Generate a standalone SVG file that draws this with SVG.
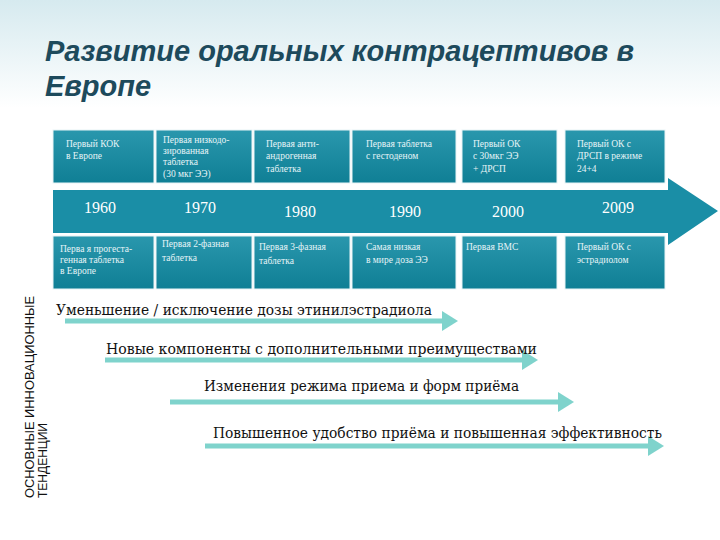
<svg xmlns="http://www.w3.org/2000/svg" width="720" height="540" viewBox="0 0 720 540">
<defs>
<linearGradient id="bg" x1="0" y1="0" x2="0" y2="1"><stop offset="0" stop-color="#d6eaef"/><stop offset="0.2" stop-color="#ffffff"/></linearGradient>
<linearGradient id="box" x1="0" y1="0" x2="0" y2="1"><stop offset="0" stop-color="#2a97ad"/><stop offset="1" stop-color="#0f7f95"/></linearGradient>
<marker id="ah" markerWidth="4" markerHeight="4" refX="2" refY="2" orient="auto" markerUnits="strokeWidth"><path d="M0,0 L3.2,2 L0,4 z" fill="#7fd3cc"/></marker>
<style>
.box{fill:url(#box);stroke:#e8f4f6;stroke-width:1}
.bt{font-family:"Liberation Serif",serif;font-size:9.5px;fill:#e6f4f7}
.yr{font-family:"Liberation Serif",serif;font-size:16px;fill:#ffffff}
.tl{font-family:"DejaVu Serif","Liberation Serif",serif;font-size:14px;fill:#111}
.ln{stroke:#7fd3cc;stroke-width:5;fill:none;marker-end:url(#ah)}
</style>
</defs>
<rect width="720" height="540" fill="url(#bg)"/>
<g id="title" font-family="Liberation Sans,sans-serif" font-size="29" font-weight="bold" font-style="italic" fill="#1d4a5c">
<text x="45" y="61">Развитие оральных контрацептивов в</text>
<text x="45" y="96">Европе</text>
</g>
<g id="timeline">
<path d="M53,190 H668 V178 L718,211 L668,245 V233 H53 Z" fill="#1a8ea6"/>
<text class="yr" x="100" y="213" text-anchor="middle">1960</text>
<text class="yr" x="200" y="213" text-anchor="middle">1970</text>
<text class="yr" x="300" y="217" text-anchor="middle">1980</text>
<text class="yr" x="405" y="217" text-anchor="middle">1990</text>
<text class="yr" x="508" y="217" text-anchor="middle">2000</text>
<text class="yr" x="618" y="213" text-anchor="middle">2009</text>
</g>
<g id="top-boxes">
<g id="t1"><rect class="box" x="53" y="130" width="101" height="53"/><text class="bt" x="66" y="147">Первый КОК</text><text class="bt" x="66" y="159">в Европе</text></g>
<g id="t2"><rect class="box" x="156" y="130" width="96" height="53"/><text class="bt" x="163" y="143">Первая низкодо-</text><text class="bt" x="163" y="154">зированная</text><text class="bt" x="163" y="165">таблетка</text><text class="bt" x="163" y="177">(30 мкг ЭЭ)</text></g>
<g id="t3"><rect class="box" x="254" y="130" width="96" height="53"/><text class="bt" x="266" y="147">Первая анти-</text><text class="bt" x="266" y="159">андрогенная</text><text class="bt" x="266" y="172">таблетка</text></g>
<g id="t4"><rect class="box" x="352" y="130" width="104" height="53"/><text class="bt" x="366" y="147">Первая таблетка</text><text class="bt" x="366" y="159"> с гестоденом</text></g>
<g id="t5"><rect class="box" x="462" y="130" width="95" height="53"/><text class="bt" x="473" y="147">Первый ОК</text><text class="bt" x="473" y="159">с 30мкг ЭЭ</text><text class="bt" x="473" y="172">+ ДРСП</text></g>
<g id="t6"><rect class="box" x="565" y="130" width="100" height="53"/><text class="bt" x="577" y="147">Первый ОК с</text><text class="bt" x="577" y="159">ДРСП в режиме</text><text class="bt" x="577" y="172"> 24+4</text></g>
</g>
<g id="bottom-boxes">
<g id="b1"><rect class="box" x="53" y="236" width="101" height="53"/><text class="bt" x="60" y="252">Перва я прогеста-</text><text class="bt" x="60" y="263">генная таблетка</text><text class="bt" x="60" y="274"> в Европе</text></g>
<g id="b2"><rect class="box" x="156" y="236" width="96" height="53"/><text class="bt" x="162" y="247">Первая 2-фазная</text><text class="bt" x="162" y="261">таблетка</text></g>
<g id="b3"><rect class="box" x="254" y="236" width="96" height="53"/><text class="bt" x="259" y="250">Первая 3-фазная</text><text class="bt" x="259" y="264">таблетка</text></g>
<g id="b4"><rect class="box" x="352" y="236" width="104" height="53"/><text class="bt" x="366" y="250">Самая низкая</text><text class="bt" x="366" y="263">в мире доза ЭЭ</text></g>
<g id="b5"><rect class="box" x="462" y="236" width="95" height="53"/><text class="bt" x="466" y="250">Первая ВМС</text></g>
<g id="b6"><rect class="box" x="565" y="236" width="100" height="53"/><text class="bt" x="577" y="250">Первый ОК с</text><text class="bt" x="577" y="263">эстрадиолом</text></g>
</g>
<g id="connectors">
<line class="ln" x1="65" y1="321" x2="452" y2="321"/>
<line class="ln" x1="105" y1="360" x2="532" y2="360"/>
<line class="ln" x1="170" y1="402" x2="568" y2="402"/>
<line class="ln" x1="205" y1="446" x2="658" y2="446"/>
</g>
<g id="labels">
<text class="tl" x="56" y="315" textLength="376" lengthAdjust="spacingAndGlyphs">Уменьшение / исключение дозы этинилэстрадиола</text>
<text class="tl" x="106" y="354" textLength="431" lengthAdjust="spacingAndGlyphs">Новые  компоненты с дополнительными преимуществами</text>
<text class="tl" x="204" y="391" textLength="315" lengthAdjust="spacingAndGlyphs">Изменения режима приема и форм приёма</text>
<text class="tl" x="213" y="438" textLength="449" lengthAdjust="spacingAndGlyphs">Повышенное удобство приёма и повышенная  эффективность</text>
</g>
<g id="side" font-family="Liberation Sans,sans-serif" font-size="12" fill="#111">
<text transform="translate(34,498) rotate(-90)" textLength="202" lengthAdjust="spacingAndGlyphs">ОСНОВНЫЕ ИННОВАЦИОННЫЕ</text>
<text transform="translate(47,498) rotate(-90)">ТЕНДЕНЦИИ</text>
</g>
</svg>
